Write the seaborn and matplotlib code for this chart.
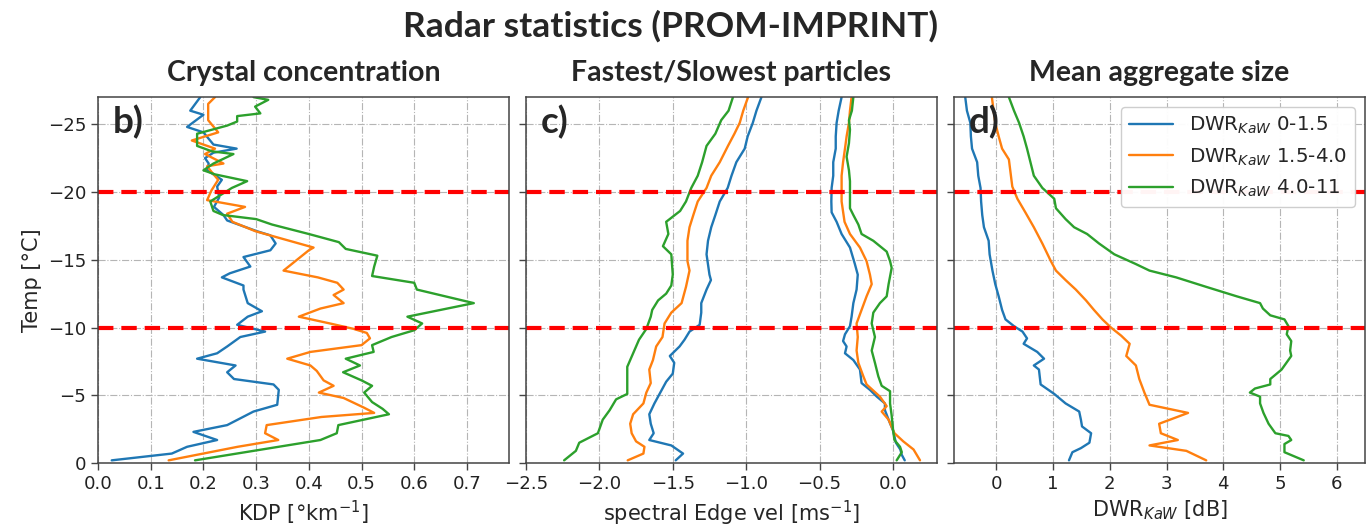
import matplotlib
matplotlib.use("Agg")
import matplotlib.pyplot as plt
import seaborn as sns

# ---------------- data ----------------
series_labels = ["DWR$_{KaW}$ 0-1.5", "DWR$_{KaW}$ 1.5-4.0", "DWR$_{KaW}$ 4.0-11"]
series_colors = ["#1f77b4", "#ff7f0e", "#2ca02c"]

# Panel b: KDP
kdp_T_blue = [-27, -26, -25.7, -24.8, -24.4, -23.5, -23.2, -22.9, -22.5, -22.1, -21.6, -20.9, -20.4, -19.6, -18.9,
              -18.3, -17.9, -17.1, -16.8, -16.2, -15.7, -15.2, -14.5, -14.0, -13.7, -13.1, -12.8, -11.8, -11.2, -10.8,
              -10.2, -9.7, -9.3, -8.6, -8.1, -7.7, -7.2, -6.7, -6.2, -5.8, -5.4, -4.3, -3.8, -2.8, -2.3, -1.7, -1.2,
              -0.7, -0.2]
kdp_blue = [0.194, 0.175, 0.2, 0.169, 0.2, 0.219, 0.263, 0.219, 0.203, 0.21, 0.207, 0.235, 0.226, 0.23, 0.22,
            0.238, 0.245, 0.302, 0.327, 0.337, 0.327, 0.276, 0.289, 0.25, 0.235, 0.276, 0.276, 0.284, 0.311, 0.284,
            0.264, 0.317, 0.27, 0.245, 0.226, 0.188, 0.261, 0.245, 0.258, 0.333, 0.343, 0.34, 0.295, 0.245, 0.181,
            0.226, 0.169, 0.14, 0.026]
kdp_T_orange = [-27, -26.5, -25.3, -24.4, -23.8, -23.2, -22.8, -22.1, -21.9, -21.5, -20.9, -20.1, -19.4, -18.9, -18.4,
                -17.8, -17.1, -15.9, -15.7, -14.2, -13.7, -13.3, -12.8, -12.4, -11.8, -11.4, -10.8, -10.3, -9.9, -9.6,
                -9.2, -8.7, -8.2, -7.7, -7.2, -6.8, -6.1, -5.7, -5.2, -4.8, -4.1, -3.7, -3.4, -2.8, -2.2, -1.7, -1.2,
                -0.2]
kdp_orange = [0.222, 0.209, 0.209, 0.228, 0.178, 0.222, 0.203, 0.238, 0.207, 0.215, 0.228, 0.215, 0.207, 0.279, 0.245,
              0.255, 0.299, 0.409, 0.400, 0.352, 0.417, 0.454, 0.466, 0.447, 0.466, 0.422, 0.381, 0.44, 0.485, 0.51,
              0.516, 0.50, 0.403, 0.359, 0.403, 0.415, 0.428, 0.447, 0.419, 0.466, 0.504, 0.524, 0.424, 0.32, 0.317,
              0.342, 0.265, 0.134]
kdp_T_green = [-27, -26.8, -26.3, -25.8, -25.6, -25.2, -24.9, -24.3, -23.4, -23.0, -22.8, -22.1, -21.6, -21.3, -20.8,
               -20.3, -19.3, -18.6, -18.3, -18.0, -17.6, -16.9, -16.3, -15.8, -15.3, -14.5, -13.8, -13.3, -12.8, -11.8,
               -11.3, -10.8, -10.3, -9.8, -9.3, -8.7, -8.2, -7.7, -7.2, -6.7, -6.1, -5.7, -5.2, -4.5, -4.0, -3.6, -2.8,
               -2.2, -1.7, -0.2]
kdp_green = [0.295, 0.323, 0.298, 0.308, 0.264, 0.264, 0.245, 0.188, 0.188, 0.216, 0.257, 0.219, 0.2, 0.222, 0.283,
             0.254, 0.213, 0.219, 0.237, 0.3, 0.33, 0.4, 0.457, 0.47, 0.53, 0.524, 0.52, 0.6, 0.605, 0.713,
             0.65, 0.587, 0.615, 0.6, 0.557, 0.52, 0.523, 0.47, 0.497, 0.465, 0.5, 0.52, 0.505, 0.52, 0.54,
             0.552, 0.456, 0.453, 0.422, 0.184]

# Panel c: spectral edge velocities (fast edge)
fast_T_blue = [-27, -26, -25.1, -24.1, -23.2, -22.2, -21.2, -20.3, -19.3, -18.3, -17.4, -16.4, -15.4, -13.9, -13.5,
               -12.8, -11.8, -11.1, -10.2, -9.7, -9.1, -8.6, -7.9, -7.4, -6.6, -6.0, -5.3, -4.4, -3.6, -2.9,
               -2.2, -1.7, -1.3, -0.7, -0.2]
fast_blue = [-0.896, -0.93, -0.955, -0.99, -1.01, -1.067, -1.1, -1.126, -1.18, -1.21, -1.238, -1.26, -1.27, -1.25, -1.24,
             -1.27, -1.306, -1.306, -1.317, -1.386, -1.42, -1.454, -1.52, -1.49, -1.50, -1.545, -1.58, -1.625, -1.66,
             -1.65, -1.63, -1.66, -1.51, -1.43, -1.48]
fast_T_orange = [-27, -26, -25.1, -24.3, -23.4, -22.2, -21.2, -20.3, -19.3, -18.3, -17.4, -16.4, -14.9, -14.2, -13.0,
                 -11.8, -11.1, -10.3, -9.3, -8.6, -7.6, -6.9, -5.9, -5.2, -4.4, -3.6, -2.9, -2.2, -1.6, -1.2,
                 -0.7, -0.2]
fast_orange = [-0.987, -1.02, -1.044, -1.08, -1.124, -1.18, -1.238, -1.27, -1.33, -1.36, -1.386, -1.4, -1.4, -1.386,
               -1.41, -1.44, -1.51, -1.556, -1.57, -1.613, -1.635, -1.66, -1.65, -1.68, -1.7, -1.77, -1.79, -1.78,
               -1.75, -1.693, -1.70, -1.807]
fast_T_green = [-27, -26, -25.3, -24.3, -23.4, -22.2, -21.2, -20.3, -19.3, -18.6, -17.8, -16.9, -16.0, -15.4, -13.9,
                -13.1, -12.5, -12.0, -11.3, -10.8, -9.9, -9.1, -8.1, -7.1, -6.1, -5.1, -4.7, -3.9, -3.2, -2.2,
                -1.5, -0.9, -0.2]
fast_green = [-1.09, -1.12, -1.17, -1.21, -1.27, -1.3, -1.33, -1.374, -1.41, -1.45, -1.545, -1.53, -1.567, -1.51, -1.5,
              -1.51, -1.545, -1.6, -1.64, -1.65, -1.68, -1.73, -1.77, -1.81, -1.81, -1.81, -1.886, -1.93, -1.977,
              -2.01, -2.137, -2.16, -2.24]

# Panel c: slow edge
slow_T_blue = [-27, -26, -25.1, -24.1, -23.2, -22.2, -21.2, -20.3, -19.3, -18.5, -17.8, -16.9, -15.9, -14.7, -13.9,
               -12.8, -11.8, -10.8, -10.1, -9.5, -9.0, -8.6, -8.1, -7.6, -6.9, -5.9, -5.4, -4.9, -4.4, -3.9,
               -3.2, -2.4, -1.5, -1.0, -0.6, -0.2]
slow_blue = [-0.35, -0.37, -0.384, -0.39, -0.39, -0.407, -0.407, -0.418, -0.42, -0.418, -0.384, -0.35, -0.293, -0.26,
             -0.24, -0.248, -0.27, -0.282, -0.293, -0.327, -0.34, -0.316, -0.327, -0.27, -0.225, -0.214, -0.157,
             -0.11, -0.055, -0.055, -0.03, 0.0, 0.02, 0.05, 0.06, 0.08]
slow_T_orange = [-27, -26, -25.1, -24.1, -23.2, -22.2, -21.2, -19.3, -17.8, -16.9, -15.9, -14.9, -13.9, -13.2, -12.3,
                 -11.3, -10.3, -9.3, -8.3, -7.4, -6.4, -5.8, -4.9, -4.2, -3.8, -3.2, -2.2, -1.6, -1.0, -0.2]
slow_orange = [-0.282, -0.293, -0.30, -0.316, -0.327, -0.34, -0.35, -0.35, -0.33, -0.293, -0.225, -0.18, -0.157,
               -0.145, -0.18, -0.214, -0.248, -0.24, -0.248, -0.236, -0.202, -0.18, -0.089, -0.043, -0.077, -0.03,
               0.01, 0.07, 0.14, 0.184]
slow_T_green = [-27, -26, -25.3, -24.6, -23.6, -22.6, -21.6, -20.8, -18.8, -18.3, -17.6, -16.9, -16.4, -15.6, -14.9,
                -14.4, -13.2, -12.3, -11.8, -11.1, -10.3, -9.3, -8.3, -7.4, -6.4, -5.7, -5.3, -4.4, -3.5, -2.5,
                -1.7, -1.2, -0.8, -0.2]
slow_green = [-0.27, -0.28, -0.30, -0.293, -0.30, -0.316, -0.30, -0.293, -0.293, -0.27, -0.236, -0.214, -0.134, -0.043,
              -0.02, -0.009, -0.03, -0.043, -0.089, -0.134, -0.145, -0.123, -0.145, -0.123, -0.1, -0.077, -0.02,
              -0.02, -0.009, 0.0, 0.01, 0.048, 0.06, 0.025]

# Panel d: mean DWR_KaW
dwr_T_blue = [-27, -26, -25.1, -24.1, -23.2, -22.2, -21.2, -20.3, -19.3, -18.3, -17.4, -16.4, -15.4, -14.2, -13.2,
              -12.3, -11.3, -10.6, -10.1, -9.7, -9.2, -8.8, -8.2, -7.7, -7.2, -6.9, -5.8, -5.1, -4.4, -3.8,
              -3.2, -2.7, -2.2, -1.5, -1.1, -0.8, -0.2]
dwr_blue = [-0.55, -0.52, -0.46, -0.45, -0.43, -0.34, -0.32, -0.28, -0.27, -0.25, -0.22, -0.137, -0.12, -0.07, -0.02,
            0.04, 0.1, 0.16, 0.31, 0.46, 0.54, 0.48, 0.72, 0.84, 0.66, 0.75, 0.78, 1.02, 1.22, 1.46,
            1.49, 1.51, 1.67, 1.64, 1.49, 1.34, 1.28]
dwr_T_orange = [-27, -26, -25.1, -24.1, -23.2, -22.4, -21.4, -20.4, -19.5, -18.5, -17.4, -16.2, -14.9, -14.2, -13.5,
                -12.8, -12.0, -11.3, -10.6, -10.0, -9.4, -8.8, -7.9, -7.2, -6.2, -5.2, -4.3, -3.7, -2.9, -2.2,
                -1.7, -1.3, -0.9, -0.2]
dwr_orange = [-0.08, -0.05, -0.02, 0.04, 0.1, 0.22, 0.25, 0.28, 0.37, 0.51, 0.66, 0.81, 0.96, 1.05, 1.22,
              1.4, 1.58, 1.72, 1.87, 2.02, 2.2, 2.35, 2.29, 2.46, 2.52, 2.61, 2.7, 3.38, 2.87, 2.9,
              3.2, 2.7, 3.35, 3.7]
dwr_T_green = [-27, -26, -25.1, -24.1, -23.2, -22.2, -21.2, -20.3, -19.5, -18.8, -18.0, -17.4, -16.9, -16.2, -15.4,
               -14.7, -14.2, -13.7, -13.0, -12.3, -11.8, -11.4, -10.9, -10.6, -10.1, -9.5, -9.0, -8.3, -7.9, -6.9,
               -6.2, -5.8, -5.5, -5.2, -4.9, -4.4, -3.7, -2.9, -2.2, -2.0, -1.7, -1.4, -0.8, -0.2]
dwr_green = [0.22, 0.31, 0.4, 0.48, 0.54, 0.6, 0.66, 0.81, 1.02, 1.05, 1.22, 1.37, 1.6, 1.81, 2.08,
             2.45, 2.7, 3.17, 3.7, 4.24, 4.65, 4.7, 4.83, 5.08, 5.15, 5.12, 5.2, 5.18, 5.2, 5.03,
             4.83, 4.83, 4.56, 4.47, 4.65, 4.65, 4.71, 4.8, 4.92, 5.15, 5.2, 5.08, 5.08, 5.42]

ref_levels = [-20, -10]
panel_titles = ["Crystal concentration", "Fastest/Slowest particles", "Mean aggregate size"]
panel_letters = ["b)", "c)", "d)"]
x_labels = ["KDP [°km$^{-1}$]", "spectral Edge vel [ms$^{-1}$]", "DWR$_{KaW}$ [dB]"]
y_ticks = [0, -5, -10, -15, -20, -25]

# ---------------- style ----------------
sns.set_style("ticks")
plt.rcParams["font.family"] = ["DejaVu Sans"]
plt.rcParams["axes.edgecolor"] = "#444444"
plt.rcParams["axes.linewidth"] = 1.1
plt.rcParams["xtick.color"] = "#444444"
plt.rcParams["ytick.color"] = "#444444"
plt.rcParams["xtick.labelcolor"] = "#222222"
plt.rcParams["ytick.labelcolor"] = "#222222"

title_font = ["Lato", "DejaVu Sans"]

fig, axes = plt.subplots(1, 3, figsize=(13.71, 5.25), dpi=100, sharey=True)
fig.subplots_adjust(left=0.0715, right=0.9956, bottom=0.118, top=0.815, wspace=0.041)

panels = [
    [(kdp_blue, kdp_T_blue), (kdp_orange, kdp_T_orange), (kdp_green, kdp_T_green)],
    [(fast_blue, fast_T_blue), (fast_orange, fast_T_orange), (fast_green, fast_T_green),
     (slow_blue, slow_T_blue), (slow_orange, slow_T_orange), (slow_green, slow_T_green)],
    [(dwr_blue, dwr_T_blue), (dwr_orange, dwr_T_orange), (dwr_green, dwr_T_green)],
]

for i, (ax, data) in enumerate(zip(axes, panels)):
    for j, (xv, tv) in enumerate(data):
        k = j % 3
        sns.lineplot(x=xv, y=tv, sort=False, estimator=None, ax=ax, color=series_colors[k], lw=1.7,
                     label=series_labels[k] if (i == 2) else None, legend=False)
    for lev in ref_levels:
        ax.axhline(lev, color="red", lw=3.0, ls=(0, (3.7, 1.9)))
    ax.grid(True, ls="-.", color="#b5b5b5", lw=0.8)
    ax.set_axisbelow(True)
    ax.set_title(panel_titles[i], fontsize=20.5, fontweight="bold", family=title_font, pad=11.7)
    ax.text(0.036, 0.978, panel_letters[i], transform=ax.transAxes, fontsize=26.5, fontweight="bold",
            family=title_font, va="top", ha="left")
    ax.set_xlabel(x_labels[i], fontsize=15)
    ax.tick_params(labelsize=13.1, length=5, width=1)

axes[0].set_xlim(0, 0.78)
axes[0].set_xticks([0.0, 0.1, 0.2, 0.3, 0.4, 0.5, 0.6, 0.7])
axes[1].set_xlim(-2.5, 0.3)
axes[1].set_xticks([-2.5, -2.0, -1.5, -1.0, -0.5, 0.0])
axes[2].set_xlim(-0.75, 6.5)
axes[2].set_xticks([0, 1, 2, 3, 4, 5, 6])
axes[0].set_ylim(0, -27)
axes[0].set_yticks(y_ticks)
axes[0].set_ylabel("Temp [°C]", fontsize=15)

leg = axes[2].legend(loc="upper right", fontsize=14.3, handlelength=2.2, framealpha=0.96)
leg.set_zorder(10)

fig.suptitle("Radar statistics (PROM-IMPRINT)", x=0.489, y=0.93, va="baseline", fontsize=25.5,
             fontweight="bold", family=title_font)

fig.savefig("out.png", dpi=100)
